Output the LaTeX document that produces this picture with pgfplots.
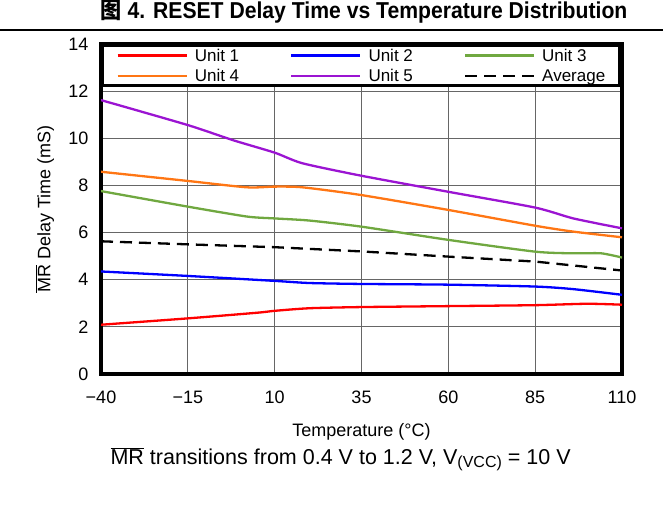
\documentclass[border=0pt]{standalone}
\usepackage{pgfplots}
\pgfplotsset{compat=1.18}
\usepackage{fontspec}
\setmainfont{Liberation Sans}
\newfontfamily\cjk{Noto Sans CJK SC}

\definecolor{uone}{RGB}{255,0,0}
\definecolor{utwo}{RGB}{0,0,255}
\definecolor{uthree}{RGB}{112,168,64}
\definecolor{ufour}{RGB}{255,118,20}
\definecolor{ufive}{RGB}{155,20,210}

\begin{document}
\begin{tikzpicture}[x=1pt,y=1pt]
\useasboundingbox (0,0) rectangle (663,-518);
% title and rule
\node[font=\fontsize{23}{25}\selectfont\bfseries, anchor=base, xscale=0.92] at (364,-19)
  {{\cjk 图} 4. RESET Delay Time vs Temperature Distribution};
\draw[line width=1.2pt] (0,-30) -- (663,-30);

\begin{axis}[
  at={(101pt,-374pt)}, anchor=south west,
  scale only axis, width=521pt, height=330pt,
  xmin=-40, xmax=110, ymin=0, ymax=14,
  xtick={-40,-15,10,35,60,85,110},
  xticklabels={−40,−15,10,35,60,85,110},
  ytick={0,2,4,6,8,10,12,14},
  yticklabels={0,2,4,6,8,10,12,14},
  grid=major,
  major grid style={black!60, line width=1pt},
  major tick length=0pt,
  axis line style={line width=3.3pt, line join=miter},
  tick label style={font=\fontsize{18}{20}\selectfont},
  xticklabel style={yshift=-13pt, text height=13pt},
  yticklabel style={xshift=-9pt},
  label style={font=\fontsize{18}{20}\selectfont},
  xlabel={Temperature (°C)},
  xlabel style={at={(axis description cs:0.5,0)}, anchor=center, yshift=-58pt},
  ylabel={$\overline{\mbox{MR}}$ Delay Time (mS)},
  ylabel style={at={(axis description cs:0,0.5)}, anchor=center, yshift=56pt},
  legend columns=3,
  legend cell align=left,
  legend image code/.code={\draw[#1, line width=2.3pt] (0pt,0pt) -- (69pt,0pt);},
  legend style={
    at={(axis description cs:0,1)}, anchor=north west,
    draw=black, line width=3pt, fill=white,
    inner xsep=14pt, inner ysep=4pt,
    row sep=8.5pt,
    font=\fontsize{17}{19}\selectfont,
    nodes={inner sep=0pt, text height=12pt, text depth=0pt},
    /tikz/every odd column/.append style={column sep=7pt},
    /tikz/every even column/.append style={column sep=51pt},
  },
  every axis plot/.append style={line width=2.3pt, line join=round},
]
\addplot[uone, smooth, tension=0.4] coordinates {
  (-40,2.09) (-15,2.36) (5,2.60) (10,2.68) (20,2.79) (35,2.84)
  (60,2.88) (85,2.92) (100,2.98) (110,2.94)};
\addlegendentry{Unit 1}
\addplot[utwo, smooth, tension=0.4] coordinates {
  (-40,4.35) (-15,4.16) (10,3.95) (20,3.86) (35,3.82) (60,3.79)
  (85,3.71) (96,3.60) (110,3.36)};
\addlegendentry{Unit 2}
\addplot[uthree, smooth, tension=0.4] coordinates {
  (-40,7.76) (-15,7.10) (2,6.68) (10,6.60) (20,6.51) (35,6.25)
  (60,5.69) (85,5.19) (96,5.12) (104,5.12) (110,4.94)};
\addlegendentry{Unit 3}
\addplot[ufour, smooth, tension=0.4] coordinates {
  (-40,8.58) (-15,8.19) (2,7.92) (10,7.95) (18,7.92) (35,7.59)
  (60,6.96) (85,6.29) (96,6.04) (110,5.80)};
\addlegendentry{Unit 4}
\addplot[ufive, smooth, tension=0.4] coordinates {
  (-40,11.62) (-15,10.56) (-2,9.92) (10,9.39) (18,8.94) (35,8.41)
  (60,7.73) (85,7.06) (96,6.60) (110,6.18)};
\addlegendentry{Unit 5}
\addplot[black, dash pattern=on 12pt off 7pt] coordinates {
  (-40,5.63) (-15,5.50) (10,5.38) (35,5.20) (60,4.98) (85,4.77) (110,4.39)};
\addlegendentry{Average}
\end{axis}

% caption
\node[font=\fontsize{21.5}{23}\selectfont, anchor=base west] at (107,-464)
  {$\overline{\mbox{MR}}$ transitions from 0.4 V to 1.2 V, V\raisebox{-0.35ex}{\fontsize{16}{17}\selectfont(VCC)} = 10 V};
\end{tikzpicture}
\end{document}
